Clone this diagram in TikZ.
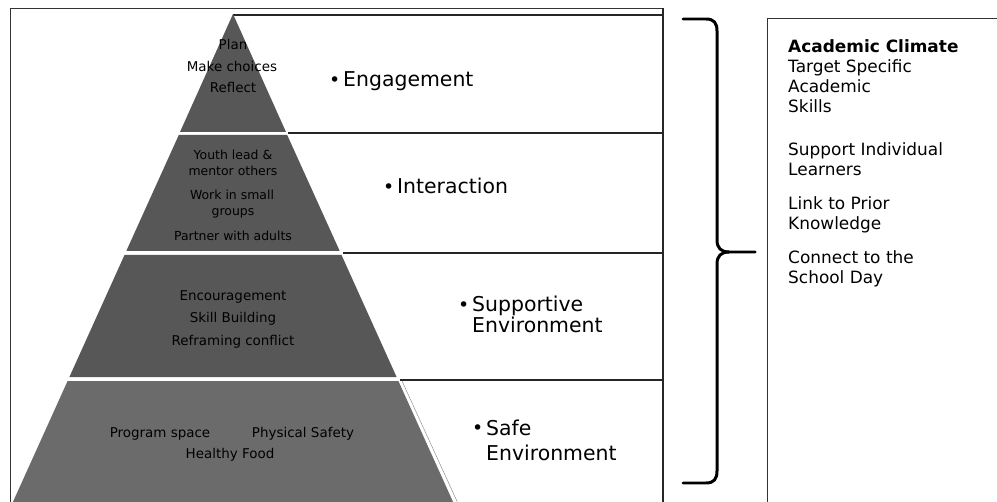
\documentclass[tikz,border=0pt]{standalone}
\usepackage{fontspec}
\setmainfont{DejaVu Sans}
\begin{document}
\begin{tikzpicture}[x=1bp,y=-1bp,
  lvl/.style={fill=black!66, draw=none},
  lvlb/.style={fill=black!58, draw=none},
  rowline/.style={line width=1.4pt, draw=black!85},
  edgeline/.style={line width=2pt, draw=black!85},
  frame/.style={line width=0.8pt, draw=black!80},
  thinline/.style={line width=0.4pt, draw=black!50},
  ptext/.style={font=\fontsize{13.5}{16}\selectfont, inner sep=0pt, anchor=base},
  ptextb/.style={font=\fontsize{12.5}{15}\selectfont, inner sep=0pt, anchor=base},
  lab/.style={font=\fontsize{20.5}{26}\selectfont, inner sep=0pt, anchor=base west},
  rtext/.style={font=\fontsize{17}{20}\selectfont, inner sep=0pt, anchor=base west},
  bracepath/.style={line width=3pt, line join=round, line cap=round}
]
\useasboundingbox (0,0) rectangle (997,502);
\clip (0,0) rectangle (997,502);
\fill[white] (0,0) rectangle (997,502);

% outer frame
\draw[frame] (10.5,8) -- (663,8);
\draw[frame] (10.5,8) -- (10.5,512);

% row boxes
\draw[rowline] (233,15) -- (663,15);
\draw[rowline] (288,133) -- (663,133);
\draw[rowline] (343,253) -- (663,253);
\draw[rowline] (400,380) -- (663,380);
\draw[edgeline] (663,8) -- (663,512);

% pyramid levels
\fill[lvl] (233,14) -- (286,132) -- (180,132) -- cycle;
\fill[lvl] (178.8,135) -- (287.2,135) -- (339.7,251) -- (126.3,251) -- cycle;
\fill[lvl] (124.5,255) -- (341.5,255) -- (396.6,377) -- (69.4,377) -- cycle;
\fill[lvlb] (67.6,381) -- (398.4,381) -- (456.7,510) -- (9.3,510) -- cycle;
\draw[thinline] (402,381) -- (461,510);

% pyramid texts
\node[ptext] (plan) at (233,50) {Plan};
\node[ptext] (make) at (232,72) {Make choices};
\node[ptext] (refl) at (233,93) {Reflect};
\node[ptextb] (youth) at (233,160) {Youth lead \&};
\node[ptextb] (mentor) at (233,176) {mentor others};
\node[ptextb] (work) at (232,200) {Work in small};
\node[ptextb] (groups) at (233,216) {groups};
\node[ptextb] (partner) at (233,241) {Partner with adults};
\node[ptext] (enc) at (233,301) {Encouragement};
\node[ptext] (skill) at (233,323) {Skill Building};
\node[ptext] (refr) at (233,346) {Reframing conflict};
\node[ptext] (prog) at (160,437) {Program space};
\node[ptext] (phys) at (303,437) {Physical Safety};
\node[ptext] (food) at (230,458) {Healthy Food};

% level labels
\newcommand{\bul}{\makebox[14bp][l]{\fontsize{19}{19}\selectfont\raisebox{0.5bp}{•}}}
\node[lab] (eng) at (329,87) {\bul Engagement};
\node[lab] (inter) at (383,194) {\bul Interaction};
\node[lab] (supp) at (458,312) {\bul Supportive};
\node[lab] (suppenv) at (472,333) {Environment};
\node[lab] (safe) at (472,435) {\bul Safe};
\node[lab] (safeenv) at (486,460) {Environment};

% brace
\draw[bracepath] (683,19) -- (706,19) .. controls (714,19) and (717,23) .. (717,31)
  -- (717,240) .. controls (717,248) and (721,252) .. (729,252) -- (755,252);
\draw[bracepath] (729,252) .. controls (721,252) and (717,256) .. (717,264)
  -- (717,471) .. controls (717,479) and (714,483) .. (706,483) -- (683,483);

% right box
\draw[frame] (767,18) -- (1000,18);
\draw[frame] (767,18) -- (767,512);

\node[rtext, font=\fontsize{17}{20}\selectfont\bfseries] (ac) at (788,53) {Academic Climate};
\node[rtext] (r1) at (788,73) {Target Specific};
\node[rtext] (r2) at (788,93) {Academic};
\node[rtext] (r3) at (788,113) {Skills};
\node[rtext] (r4) at (788,156) {Support Individual};
\node[rtext] (r5) at (788,176) {Learners};
\node[rtext] (r6) at (788,210) {Link to Prior};
\node[rtext] (r7) at (788,230) {Knowledge};
\node[rtext] (r8) at (788,264) {Connect to the};
\node[rtext] (r9) at (788,284) {School Day};
\end{tikzpicture}
\end{document}
